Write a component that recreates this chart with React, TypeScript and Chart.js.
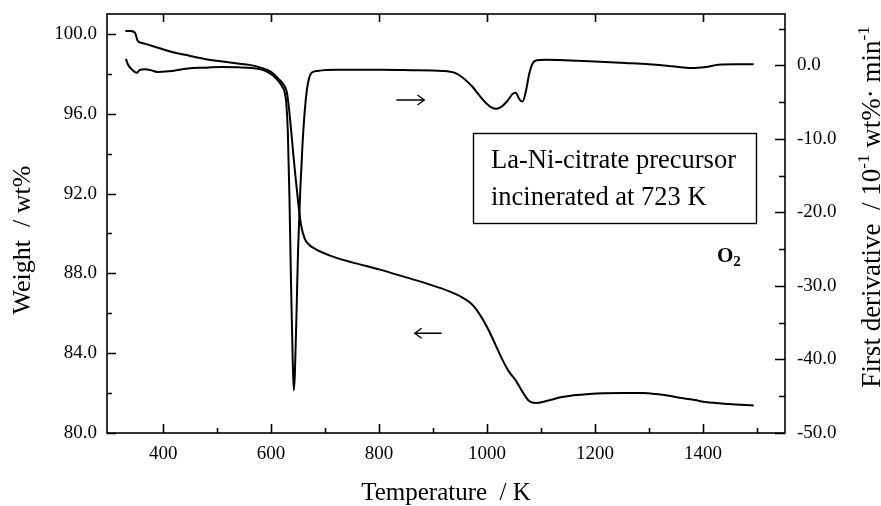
import React, { useEffect, useRef } from "react";
import { Chart, registerables } from "chart.js";

Chart.register(...registerables);

// ---- Data ----
const weightTemps = [
  330, 340, 348, 353, 361, 380, 416, 450, 477, 510, 538, 560, 582, 600, 612, 622, 629, 633,
  637, 641, 645, 650, 655, 662, 670, 680, 708, 750, 800, 850, 893, 930, 954, 970, 980, 992,
  1004, 1016, 1028, 1040, 1054, 1066, 1078, 1090, 1110, 1139, 1189, 1250, 1290, 1313, 1340,
  1361, 1385, 1405, 1448, 1494,
];
const weightValues = [
  100.15, 100.15, 100.05, 99.65, 99.55, 99.4, 99.1, 98.9, 98.75, 98.62, 98.52, 98.45, 98.3,
  98.1, 97.8, 97.5, 97.1, 96.3, 95.2, 94.0, 92.9, 91.6, 90.5, 89.75, 89.45, 89.25, 88.9,
  88.55, 88.2, 87.8, 87.45, 87.1, 86.8, 86.5, 86.2, 85.7, 85.1, 84.4, 83.7, 83.1, 82.6,
  82.05, 81.6, 81.5, 81.6, 81.8, 81.95, 82.0, 82.0, 81.95, 81.85, 81.75, 81.65, 81.55, 81.45,
  81.38,
];

const derivTemps = [
  331, 335, 343, 351, 357, 366, 380, 390, 410, 446, 480, 508, 540, 564, 584, 594, 604, 612,
  620, 625, 628, 631, 634, 637, 640, 642, 644, 647, 650, 654, 658, 662, 666, 670, 675, 686,
  723, 806, 860, 917, 940, 954, 965, 973, 985, 998, 1008, 1017, 1027, 1038, 1047, 1053, 1060,
  1066, 1072, 1078, 1084, 1092, 1110, 1133, 1200, 1257, 1300, 1337, 1360, 1379, 1405, 1429,
  1460, 1494,
];
const derivValues = [
  0.9, 0.1, -0.6, -1.0, -0.6, -0.5, -0.7, -0.9, -0.8, -0.4, -0.3, -0.2, -0.25, -0.35, -0.6,
  -0.9, -1.4, -2.0, -2.8, -3.6, -5.0, -9.0, -18.0, -30.0, -40.0, -44.2, -42.0, -34.0, -25.0,
  -17.0, -11.0, -6.5, -3.5, -1.8, -1.0, -0.75, -0.6, -0.6, -0.65, -0.75, -1.0, -1.6, -2.3,
  -2.9, -4.0, -5.1, -5.7, -5.9, -5.6, -4.8, -3.9, -3.7, -4.6, -4.9, -3.5, -1.2, 0.2, 0.7,
  0.78, 0.74, 0.55, 0.33, 0.15, -0.07, -0.25, -0.35, -0.2, 0.1, 0.15, 0.15,
];

const xMajorTicks = [400, 600, 800, 1000, 1200, 1400];
const xMinorTicks = [500, 700, 900, 1100, 1300, 1500];
const weightMajorTicks = [80, 84, 88, 92, 96, 100];
const weightMinorTicks = [82, 86, 90, 94, 98];
const derivMajorTicks = [-50, -40, -30, -20, -10, 0];
const derivMinorTicks = [-45, -35, -25, -15, -5, 5];

const X_MIN = 296;
const X_MAX = 1552;
const W_MIN = 80;
const W_MAX = 101;
const D_MIN = -50;
const D_MAX = 7;

const xTitle = "Temperature  / K";
const leftTitle = "Weight  / wt%";
const legendLines = ["La-Ni-citrate precursor", "incinerated at 723 K"];
const gasLabel = "O";
const gasSub = "2";

const SERIF = "'Liberation Serif', 'Times New Roman', serif";

function drawArrow(ctx: CanvasRenderingContext2D, x0: number, x1: number, y: number) {
  const dir = Math.sign(x1 - x0);
  ctx.beginPath();
  ctx.moveTo(x0, y);
  ctx.lineTo(x1, y);
  ctx.moveTo(x1 - dir * 7, y - 5);
  ctx.lineTo(x1, y);
  ctx.lineTo(x1 - dir * 7, y + 5);
  ctx.stroke();
}

const decorPlugin = {
  id: "decor",
  afterDraw(chart: any) {
    const { ctx, chartArea: a, scales } = chart;
    const sx = scales.x;
    const sy = scales.y;
    const sy1 = scales.y1;
    ctx.save();
    ctx.strokeStyle = "#000";
    ctx.fillStyle = "#000";
    ctx.lineWidth = 1.6;
    ctx.strokeRect(a.left, a.top, a.right - a.left, a.bottom - a.top);

    ctx.lineWidth = 1.6;
    ctx.beginPath();
    xMajorTicks.forEach((v) => {
      const px = Math.round(sx.getPixelForValue(v)) + 0.5;
      ctx.moveTo(px, a.bottom);
      ctx.lineTo(px, a.bottom - 9);
      ctx.moveTo(px, a.top);
      ctx.lineTo(px, a.top + 8);
    });
    xMinorTicks.forEach((v) => {
      const px = Math.round(sx.getPixelForValue(v)) + 0.5;
      ctx.moveTo(px, a.bottom);
      ctx.lineTo(px, a.bottom - 5);
    });
    weightMajorTicks.forEach((v) => {
      const py = Math.round(sy.getPixelForValue(v)) + 0.5;
      ctx.moveTo(a.left, py);
      ctx.lineTo(a.left + 9, py);
    });
    weightMinorTicks.forEach((v) => {
      const py = Math.round(sy.getPixelForValue(v)) + 0.5;
      ctx.moveTo(a.left, py);
      ctx.lineTo(a.left + 5, py);
    });
    derivMajorTicks.forEach((v) => {
      const py = Math.round(sy1.getPixelForValue(v)) + 0.5;
      ctx.moveTo(a.right, py);
      ctx.lineTo(a.right - 10, py);
    });
    derivMinorTicks.forEach((v) => {
      const py = Math.round(sy1.getPixelForValue(v)) + 0.5;
      ctx.moveTo(a.right, py);
      ctx.lineTo(a.right - 6, py);
    });
    ctx.stroke();

    // legend box
    ctx.lineWidth = 1.4;
    ctx.strokeRect(473.5, 133.5, 283, 90);
    ctx.font = `26.5px ${SERIF}`;
    ctx.textAlign = "left";
    ctx.textBaseline = "alphabetic";
    ctx.fillText(legendLines[0], 491, 168);
    ctx.fillText(legendLines[1], 491, 205);

    // O2 label
    ctx.font = `bold 21px ${SERIF}`;
    ctx.fillText(gasLabel, 717, 262);
    const ow = ctx.measureText(gasLabel).width;
    ctx.font = `bold 15px ${SERIF}`;
    ctx.fillText(gasSub, 717 + ow, 266);

    // arrows
    ctx.lineWidth = 1.3;
    drawArrow(ctx, sx.getPixelForValue(832), sx.getPixelForValue(884), sy1.getPixelForValue(-4.7));
    drawArrow(ctx, sx.getPixelForValue(916), sx.getPixelForValue(866), sy.getPixelForValue(85.0));

    // x title
    ctx.font = `25px ${SERIF}`;
    ctx.textAlign = "center";
    ctx.fillText(xTitle, (a.left + a.right) / 2, 500);

    // left title
    ctx.save();
    ctx.translate(30, 240);
    ctx.rotate(-Math.PI / 2);
    ctx.textAlign = "center";
    ctx.font = `26px ${SERIF}`;
    ctx.fillText(leftTitle, 0, 0);
    ctx.restore();

    // right title with superscripts
    const size = 27;
    const parts: { t: string; sup?: boolean }[] = [
      { t: "First derivative  / 10" },
      { t: "-1", sup: true },
      { t: " wt%\u00B7 min" },
      { t: "-1", sup: true },
    ];
    ctx.save();
    ctx.translate(880, 207);
    ctx.rotate(-Math.PI / 2);
    ctx.textAlign = "left";
    let total = 0;
    parts.forEach((p) => {
      ctx.font = `${p.sup ? Math.round(size * 0.62) : size}px ${SERIF}`;
      total += ctx.measureText(p.t).width;
    });
    let cx = -total / 2;
    parts.forEach((p) => {
      ctx.font = `${p.sup ? Math.round(size * 0.62) : size}px ${SERIF}`;
      ctx.fillText(p.t, cx, p.sup ? -size * 0.42 : 0);
      cx += ctx.measureText(p.t).width;
    });
    ctx.restore();

    ctx.restore();
  },
};

function zeroPad(s: any) {
  s.paddingTop = 0;
  s.paddingBottom = 0;
  s.paddingLeft = 0;
  s.paddingRight = 0;
}

export default function App() {
  const ref = useRef<HTMLCanvasElement | null>(null);

  useEffect(() => {
    if (!ref.current) return;
    const tickFont = { family: SERIF, size: 19 };
    const chart = new Chart(ref.current, {
      type: "scatter",
      data: {
        datasets: [
          {
            label: "Weight",
            data: weightTemps.map((t, i) => ({ x: t, y: weightValues[i] })),
            yAxisID: "y",
            showLine: true,
            borderColor: "#000",
            borderWidth: 2,
            pointRadius: 0,
            cubicInterpolationMode: "monotone",
          },
          {
            label: "First derivative",
            data: derivTemps.map((t, i) => ({ x: t, y: derivValues[i] })),
            yAxisID: "y1",
            showLine: true,
            borderColor: "#000",
            borderWidth: 2,
            pointRadius: 0,
            cubicInterpolationMode: "monotone",
          },
        ],
      },
      options: {
        responsive: false,
        animation: false,
        layout: { padding: { top: 14, left: 0, right: 0, bottom: 0 } },
        plugins: { legend: { display: false }, tooltip: { enabled: false } },
        scales: {
          x: {
            type: "linear",
            min: X_MIN,
            max: X_MAX,
            grid: { display: false, drawTicks: false, tickLength: 0 },
            border: { display: false },
            afterBuildTicks: (s: any) => {
              s.ticks = xMajorTicks.map((v) => ({ value: v }));
            },
            afterFit: (s: any) => {
              s.height = 73;
              zeroPad(s);
            },
            ticks: {
              font: tickFont,
              color: "#000",
              padding: 10,
              maxRotation: 0,
              autoSkip: false,
              callback: (v: any) => String(v),
            },
          },
          y: {
            type: "linear",
            position: "left",
            min: W_MIN,
            max: W_MAX,
            grid: { display: false, drawTicks: false, tickLength: 0 },
            border: { display: false },
            afterBuildTicks: (s: any) => {
              s.ticks = weightMajorTicks.map((v) => ({ value: v }));
            },
            afterFit: (s: any) => {
              s.width = 107;
              zeroPad(s);
            },
            ticks: {
              font: tickFont,
              color: "#000",
              padding: 10,
              autoSkip: false,
              callback: (v: any) => Number(v).toFixed(1),
            },
          },
          y1: {
            type: "linear",
            position: "right",
            min: D_MIN,
            max: D_MAX,
            grid: { display: false, drawTicks: false, tickLength: 0 },
            border: { display: false },
            afterBuildTicks: (s: any) => {
              s.ticks = derivMajorTicks.map((v) => ({ value: v }));
            },
            afterFit: (s: any) => {
              s.width = 96;
              zeroPad(s);
            },
            ticks: {
              font: tickFont,
              color: "#000",
              padding: 12,
              autoSkip: false,
              callback: (v: any) => Number(v).toFixed(1),
            },
          },
        },
      },
      plugins: [decorPlugin],
    } as any);
    return () => chart.destroy();
  }, []);

  return (
    <div style={{ position: "absolute", left: 0, top: 0, width: 881, height: 506, background: "#fff" }}>
      <canvas ref={ref} width={881} height={506} style={{ display: "block" }} />
    </div>
  );
}
